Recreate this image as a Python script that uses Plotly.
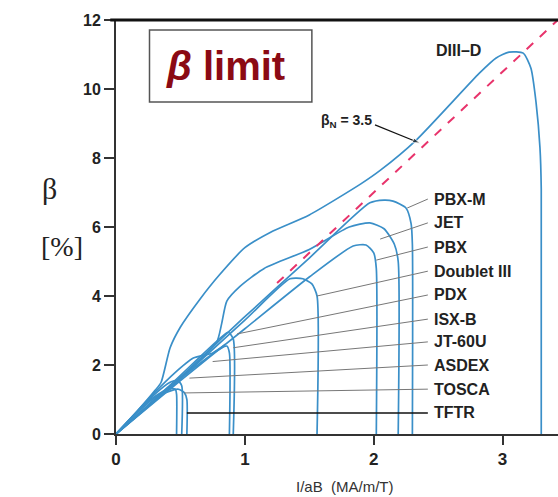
import plotly.graph_objects as go

# ---------------- data ----------------
machines = ["DIII-D", "PBX-M", "JET", "PBX", "Doublet III", "PDX", "ISX-B",
            "JT-60U", "ASDEX", "TOSCA", "TFTR"]

diiid_x = [0, 0.15, 0.3, 0.35, 0.42, 0.5, 0.65, 0.8, 1.0, 1.2, 1.5, 1.9, 2.05, 2.33, 2.82, 2.95, 3.05, 3.16, 3.22, 3.26, 3.29, 3.30, 3.30]
diiid_y = [0, 0.6, 1.25, 1.5, 2.5, 3.1, 3.9, 4.6, 5.4, 5.85, 6.35, 7.25, 7.64, 8.52, 10.46, 10.9, 11.07, 11.04, 10.6, 9.6, 8.3, 7.1, 0]

pbxm_x = [0, 0.5, 1.0, 1.5, 1.97, 2.08, 2.15, 2.25, 2.29, 2.30, 2.30]
pbxm_y = [0, 1.65, 3.4, 5.1, 6.7, 6.78, 6.75, 6.55, 6.1, 5.5, 0]

jet_x = [0, 0.4, 0.78, 0.82, 0.86, 0.96, 1.15, 1.5, 1.81, 1.97, 2.08, 2.16, 2.19, 2.19]
jet_y = [0, 1.3, 2.65, 3.2, 3.85, 4.27, 4.8, 5.35, 6.0, 6.12, 5.95, 5.5, 5.0, 0]

pbx_x = [0, 0.5, 1.0, 1.5, 1.84, 1.94, 2.0, 2.02, 2.02]
pbx_y = [0, 1.55, 3.05, 4.55, 5.45, 5.48, 5.25, 4.8, 0]

d3_x = [0, 0.5, 1.0, 1.35, 1.45, 1.52, 1.56, 1.56]
d3_y = [0, 1.6, 3.3, 4.5, 4.5, 4.35, 4.0, 0]

pdx_x = [0, 0.4, 0.8, 0.87, 0.91, 0.91]
pdx_y = [0, 1.35, 2.75, 2.95, 2.75, 0]

isxb_x = [0, 0.5, 0.8, 0.86, 0.88, 0.88]
isxb_y = [0, 1.6, 2.45, 2.55, 2.35, 0]

jt60u_x = [0, 0.3, 0.45, 0.6, 0.75, 0.85]
jt60u_y = [0, 1.2, 1.75, 2.2, 2.35, 2.6]

asdex_x = [0, 0.3, 0.42, 0.48, 0.51, 0.51]
asdex_y = [0, 1.15, 1.5, 1.55, 1.4, 0]

tosca_x = [0, 0.25, 0.4, 0.46, 0.47, 0.47]
tosca_y = [0, 0.95, 1.3, 1.3, 1.15, 0]

tftr_x = [0, 0.3, 0.48, 0.53, 0.55, 0.55]
tftr_y = [0, 1.05, 1.3, 1.2, 1.0, 0]

curves_x = [diiid_x, pbxm_x, jet_x, pbx_x, d3_x, pdx_x, isxb_x, jt60u_x, asdex_x, tosca_x, tftr_x]
curves_y = [diiid_y, pbxm_y, jet_y, pbx_y, d3_y, pdx_y, isxb_y, jt60u_y, asdex_y, tosca_y, tftr_y]

# beta_N limit line
beta_N = 3.5
limit_x = [1.25, 12 / 3.5]

# labels on the right and leader line end points
label_names = ["PBX-M", "JET", "PBX", "Doublet III", "PDX", "ISX-B", "JT-60U", "ASDEX", "TOSCA", "TFTR"]
label_y = [6.81, 6.12, 5.42, 4.72, 4.03, 3.33, 2.67, 2.0, 1.30, 0.61]
leader_end_x = [2.26, 2.05, 2.02, 1.56, 0.94, 0.91, 0.75, 0.57, 0.53, 0.55]
leader_end_y = [6.55, 5.65, 5.04, 4.0, 2.9, 2.5, 2.1, 1.62, 1.19, 0.61]
label_x = 2.45
leader_start_x = 2.42

# beta_N pointer
pointer_x = [2.01, 2.36]
pointer_y = [8.96, 8.43]

y_ticks = [0, 2, 4, 6, 8, 10, 12]
x_ticks = [0, 1, 2, 3]

# ---------------- figure ----------------
fig = go.Figure()

blue = "#3a8fc8"
for cx, cy, name in zip(curves_x, curves_y, machines):
    fig.add_trace(go.Scatter(x=cx, y=cy, mode="lines", name=name,
                             line=dict(color=blue, width=1.7, shape="spline", smoothing=0.6),
                             hoverinfo="skip"))

# leader lines
for i, (ly, ex, ey) in enumerate(zip(label_y, leader_end_x, leader_end_y)):
    is_tftr = label_names[i] == "TFTR"
    fig.add_trace(go.Scatter(x=[ex, leader_start_x], y=[ey, ly], mode="lines",
                             line=dict(color="#111" if is_tftr else "#777",
                                       width=1.6 if is_tftr else 1),
                             hoverinfo="skip"))

# beta_N = 3.5 dashed line
fig.add_trace(go.Scatter(x=limit_x, y=[beta_N * v for v in limit_x], mode="lines",
                         line=dict(color="#e8336b", width=2, dash="dash"),
                         hoverinfo="skip"))

# pointer with arrowhead
fig.add_trace(go.Scatter(x=pointer_x, y=pointer_y, mode="lines+markers",
                         line=dict(color="#111", width=1.2),
                         marker=dict(symbol=["circle", "arrow"], size=[0, 8], color="#111",
                                     angleref="previous"),
                         hoverinfo="skip"))

lab_font = dict(family="Liberation Sans, Arial, sans-serif", size=16, color="#222")
for name, ly in zip(label_names, label_y):
    fig.add_annotation(x=label_x, y=ly, text="<b>%s</b>" % name, showarrow=False,
                       xanchor="left", yanchor="middle", font=lab_font)

fig.add_annotation(x=2.66, y=11.13, text="<b>DIII–D</b>", showarrow=False,
                   xanchor="center", yanchor="middle", font=lab_font)

fig.add_annotation(x=1.79, y=9.07, text="<b>β<sub>N</sub> = 3.5</b>", showarrow=False,
                   xanchor="center", yanchor="middle",
                   font=dict(family="Liberation Sans, Arial, sans-serif", size=14, color="#222"))

# beta limit box
fig.add_shape(type="rect", x0=0.26, x1=1.52, y0=9.62, y1=11.71, xref="x", yref="y",
              line=dict(color="#555", width=1.5), fillcolor="white", layer="below")
fig.add_annotation(x=0.85, y=10.67, text="<b><i>β</i> limit</b>", showarrow=False,
                   xanchor="center", yanchor="middle",
                   font=dict(family="Liberation Sans, Arial, sans-serif", size=40, color="#8b0a14"))

# top thick line
fig.add_shape(type="line", x0=-0.013, x1=1, y0=1, y1=1, xref="paper", yref="paper",
              line=dict(color="#111", width=3))

# axis titles
fig.add_annotation(x=-0.172, y=0.594, xref="paper", yref="paper", text="β", showarrow=False,
                   font=dict(family="Liberation Serif, Times New Roman, serif", size=30, color="#222"))
fig.add_annotation(x=-0.174, y=0.452, xref="paper", yref="paper", text="[%]", showarrow=False,
                   font=dict(family="Liberation Serif, Times New Roman, serif", size=28, color="#222"))
fig.add_annotation(x=(345 - 116) / 442, y=-0.128, xref="paper", yref="paper",
                   text="I/aB  (MA/m/T)", showarrow=False, yanchor="middle",
                   font=dict(family="Liberation Sans, Arial, sans-serif", size=15, color="#333"))

fig.update_layout(
    width=558, height=497,
    margin=dict(l=116, r=0, t=20, b=63),
    plot_bgcolor="white", paper_bgcolor="white",
    showlegend=False,
    xaxis=dict(range=[0, 3.43], tickvals=x_ticks, showgrid=False, zeroline=False,
               showline=True, linecolor="#333", linewidth=2,
               ticks="outside", ticklen=9, tickwidth=2, tickcolor="#333",
               tickfont=dict(family="Liberation Sans, Arial, sans-serif", size=17, color="#222", weight="bold")),
    yaxis=dict(range=[0, 12], tickvals=y_ticks, showgrid=False, zeroline=False,
               showline=True, linecolor="#333", linewidth=2,
               ticks="outside", ticklen=10, tickwidth=2, tickcolor="#333",
               tickfont=dict(family="Liberation Sans, Arial, sans-serif", size=16, color="#222", weight="bold")),
)

fig.write_html("out.html")
